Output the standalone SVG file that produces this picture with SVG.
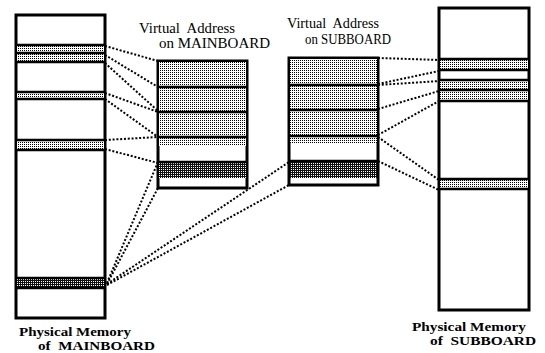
<svg xmlns="http://www.w3.org/2000/svg" width="545" height="353" viewBox="0 0 545 353">
<style>
.box{fill:#fff;stroke:#000;stroke-width:3}
.sep{stroke:#000;stroke-width:2.5;fill:none}
.lt{fill:url(#lt)}
.dk{fill:url(#dk)}
.con line{stroke:#000;stroke-width:2;stroke-dasharray:2 1.8;fill:none}
.vt{font-family:"Liberation Serif","Times New Roman",serif;font-size:14px;fill:#000}
.pt{font-family:"Liberation Serif","Times New Roman",serif;font-size:13.5px;font-weight:bold;fill:#000}
</style>
<defs>
<pattern id="lt" width="2" height="2" patternUnits="userSpaceOnUse"><rect width="2" height="2" fill="#fff"/><rect width="1" height="1" fill="#000"/></pattern>
<pattern id="dk" width="2" height="2" patternUnits="userSpaceOnUse"><rect width="2" height="2" fill="#111"/><rect x="1" y="1" width="1" height="1" fill="#fff"/></pattern>
</defs>
<rect width="545" height="353" fill="#fff"/>

<g id="connectors" class="con">
<line x1="105" y1="46" x2="158" y2="61"/>
<line x1="105" y1="55" x2="158" y2="87"/>
<line x1="105" y1="63" x2="158" y2="111"/>
<line x1="105" y1="93" x2="158" y2="112"/>
<line x1="105" y1="99" x2="158" y2="137"/>
<line x1="105" y1="140" x2="158" y2="137"/>
<line x1="105" y1="149" x2="158" y2="163"/>
<line x1="107" y1="283" x2="158" y2="162"/>
<line x1="107" y1="284" x2="158" y2="188"/>
<line x1="107" y1="284" x2="289" y2="162"/>
<line x1="107" y1="285" x2="289" y2="185"/>
<line x1="378" y1="58" x2="439" y2="60"/>
<line x1="378" y1="84" x2="439" y2="71"/>
<line x1="378" y1="85" x2="439" y2="81"/>
<line x1="378" y1="109" x2="439" y2="91"/>
<line x1="378" y1="135" x2="439" y2="101"/>
<line x1="378" y1="137" x2="439" y2="180"/>
<line x1="378" y1="161" x2="439" y2="190"/>
</g>

<g id="phys-main">
<rect class="box" x="16" y="15" width="89" height="303"/>
<rect class="lt" x="17" y="45" width="87" height="17"/>
<rect class="lt" x="17" y="92" width="87" height="7"/>
<rect class="lt" x="17" y="140" width="87" height="10"/>
<rect class="dk" x="17" y="278" width="87" height="10"/>
<path class="sep" d="M16 45H105M16 53H105M16 62H105M16 92H105M16 99H105M16 140H105M16 150H105M16 278H105M16 288H105"/>
<text class="pt" x="19" y="336" textLength="112" lengthAdjust="spacingAndGlyphs">Physical Memory</text>
<text class="pt" x="38" y="350" textLength="117" lengthAdjust="spacingAndGlyphs" xml:space="preserve">of  MAINBOARD</text>
</g>

<g id="virt-main">
<rect class="box" x="158" y="61" width="89" height="127"/>
<rect class="lt" x="159" y="62" width="87" height="84"/>
<rect class="dk" x="159" y="162" width="87" height="16"/>
<path class="sep" d="M158 87H247M158 112H247M158 137H247M158 162H247"/>
<text class="vt" x="139" y="33" textLength="96" lengthAdjust="spacingAndGlyphs" xml:space="preserve">Virtual  Address</text>
<text class="vt" x="159" y="48" textLength="111" lengthAdjust="spacingAndGlyphs">on MAINBOARD</text>
</g>

<g id="virt-sub">
<rect class="box" x="289" y="58" width="89" height="127"/>
<rect class="lt" x="290" y="59" width="87" height="84"/>
<rect class="dk" x="290" y="161" width="87" height="17"/>
<path class="sep" d="M289 85H378M289 110H378M289 136H378M289 161H378"/>
<text class="vt" x="287" y="28" textLength="92" lengthAdjust="spacingAndGlyphs" xml:space="preserve">Virtual  Address</text>
<text class="vt" x="305" y="44" textLength="86" lengthAdjust="spacingAndGlyphs">on SUBBOARD</text>
</g>

<g id="phys-sub">
<rect class="box" x="439" y="8" width="90" height="302"/>
<rect class="lt" x="440" y="59" width="88" height="11"/>
<rect class="lt" x="440" y="80" width="88" height="21"/>
<rect class="lt" x="440" y="179" width="88" height="10"/>
<path class="sep" d="M439 59H529M439 70H529M439 80H529M439 90H529M439 101H529M439 179H529M439 189H529"/>
<text class="pt" x="412" y="331" textLength="114" lengthAdjust="spacingAndGlyphs">Physical Memory</text>
<text class="pt" x="430" y="345" textLength="106" lengthAdjust="spacingAndGlyphs" xml:space="preserve">of  SUBBOARD</text>
</g>
</svg>
